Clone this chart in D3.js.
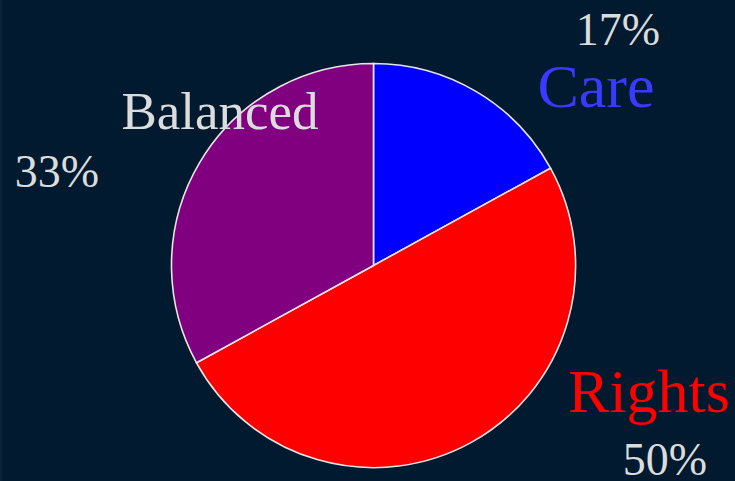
<!DOCTYPE html>
<html>
<head>
<meta charset="utf-8">
<script src="https://cdn.jsdelivr.net/npm/d3@7"></script>
<style>
  html, body { margin: 0; padding: 0; background: #011a2f; }
  svg { display: block; }
</style>
</head>
<body>
<svg id="chart" width="735" height="481"></svg>
<script>
// Moral-foundation split
const categories = ["Care", "Rights", "Balanced"];
const shares = [17, 50, 33];
const percentLabels = ["17%", "50%", "33%"];

const sliceColors = { Care: "#0000ff", Rights: "#ff0000", Balanced: "#800080" };
const nameColors = { Care: "#3a3aff", Rights: "#ff0000", Balanced: "#dcdcdc" };
const nameSizes = { Care: 62, Rights: 62, Balanced: 53 };

// Label placement around the pie (name, then percentage)
const labelPlacement = {
  Care:     { name: [596, 107], pct: [618, 45] },
  Rights:   { name: [649, 412], pct: [665, 475] },
  Balanced: { name: [220, 129], pct: [57, 187] }
};

const W = 735, H = 481;
const cx = 373.5, cy = 265.5, R = 202;

const svg = d3.select("#chart");
svg.append("rect").attr("width", W).attr("height", H).attr("fill", "#011a2f");
svg.append("rect").attr("width", 2).attr("height", H).attr("fill", "#0b2439");

const data = categories.map((c, i) => ({ name: c, value: shares[i], pct: percentLabels[i] }));

const pie = d3.pie().value(d => d.value).sort(null);
const arc = d3.arc().innerRadius(0).outerRadius(R);

const g = svg.append("g").attr("transform", `translate(${cx},${cy})`);
g.selectAll("path")
  .data(pie(data))
  .join("path")
  .attr("d", arc)
  .attr("fill", d => sliceColors[d.data.name])
  .attr("stroke", "#e6e6e6")
  .attr("stroke-width", 1.6);

const font = "'Liberation Serif', 'Times New Roman', serif";

svg.selectAll("text.name")
  .data(data)
  .join("text")
  .attr("class", "name")
  .attr("x", d => labelPlacement[d.name].name[0])
  .attr("y", d => labelPlacement[d.name].name[1])
  .attr("text-anchor", "middle")
  .attr("font-family", font)
  .attr("font-size", d => nameSizes[d.name])
  .attr("fill", d => nameColors[d.name])
  .text(d => d.name);

svg.selectAll("text.pct")
  .data(data)
  .join("text")
  .attr("class", "pct")
  .attr("x", d => labelPlacement[d.name].pct[0])
  .attr("y", d => labelPlacement[d.name].pct[1])
  .attr("text-anchor", "middle")
  .attr("font-family", font)
  .attr("font-size", 46)
  .attr("fill", "#dcdcdc")
  .text(d => d.pct);
</script>
</body>
</html>
